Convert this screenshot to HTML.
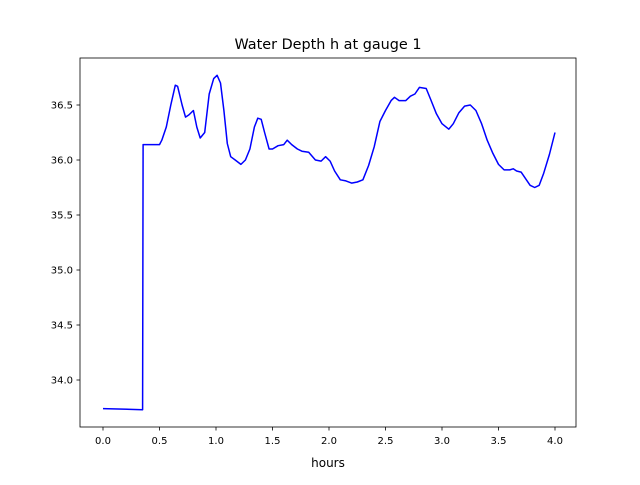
<!DOCTYPE html>
<html><head><meta charset="utf-8"><style>
body{margin:0;background:#fff;font-family:"Liberation Sans","DejaVu Sans",sans-serif}
text{font-family:"DejaVu Sans","Liberation Sans",sans-serif}
</style></head><body>
<svg id="chart" width="640" height="480" viewBox="0 0 640 480">
<rect width="640" height="480" fill="#fff"/>
<text x="328" y="49" font-size="14.4" text-anchor="middle">Water Depth h at gauge 1</text>
<g id="axes"></g>
<text x="328" y="467" font-size="12" text-anchor="middle">hours</text>
</svg>
<script>
const xValues=[0,0.35,0.355,0.5,0.52,0.56,0.6,0.64,0.66,0.7,0.73,0.76,0.8,0.83,0.86,0.9,0.94,0.98,1.01,1.04,1.07,1.1,1.13,1.17,1.22,1.26,1.3,1.34,1.37,1.4,1.43,1.47,1.5,1.55,1.6,1.63,1.67,1.72,1.76,1.82,1.88,1.93,1.97,2.01,2.05,2.1,2.15,2.2,2.25,2.3,2.35,2.4,2.45,2.5,2.55,2.58,2.62,2.68,2.72,2.76,2.8,2.86,2.9,2.95,3.0,3.06,3.1,3.15,3.2,3.25,3.3,3.35,3.4,3.45,3.5,3.55,3.6,3.63,3.66,3.7,3.74,3.78,3.82,3.86,3.9,3.95,4.0];
const depthValues=[33.74,33.73,36.14,36.14,36.18,36.3,36.5,36.68,36.67,36.5,36.39,36.41,36.45,36.3,36.2,36.25,36.6,36.74,36.77,36.7,36.45,36.15,36.03,36.0,35.96,36.0,36.1,36.3,36.38,36.37,36.25,36.1,36.1,36.13,36.14,36.18,36.14,36.1,36.08,36.07,36.0,35.99,36.03,35.99,35.9,35.82,35.81,35.79,35.8,35.82,35.95,36.12,36.35,36.45,36.54,36.57,36.54,36.54,36.58,36.6,36.66,36.65,36.55,36.42,36.33,36.28,36.33,36.43,36.49,36.5,36.45,36.33,36.18,36.06,35.96,35.91,35.91,35.92,35.9,35.89,35.83,35.77,35.75,35.77,35.88,36.05,36.25];
const xTicks=[0,0.5,1,1.5,2,2.5,3,3.5,4];
const xTickLabels=["0.0","0.5","1.0","1.5","2.0","2.5","3.0","3.5","4.0"];
const yTicks=[34,34.5,35,35.5,36,36.5];
const yTickLabels=["34.0","34.5","35.0","35.5","36.0","36.5"];
const L=80,R=576,T=58,B=427;
const xs=v=>103+v*113;
const ys=v=>105-(v-36.5)*110;
const NS="http://www.w3.org/2000/svg";
const g=document.getElementById('axes');
function mk(t,a){const e=document.createElementNS(NS,t);for(const k in a)e.setAttribute(k,a[k]);g.appendChild(e);return e;}
const pts=xValues.map((x,i)=>xs(x).toFixed(1)+','+ys(depthValues[i]).toFixed(1)).join(' ');
const line=mk('polyline',{points:pts,fill:'none',stroke:'#0000ff','stroke-width':1.5,'stroke-linejoin':'round'});


xTicks.forEach((v,i)=>{
  const t=mk('line',{x1:xs(v),x2:xs(v),y1:B,y2:B+3.5,stroke:'#000','stroke-width':0.8});
  
  
  const l=mk('text',{x:xs(v),y:B+17,'font-size':10,'text-anchor':'middle'});
  l.textContent=xTickLabels[i];
  
  
});
yTicks.forEach((v,i)=>{
  const t=mk('line',{x1:L-3.5,x2:L,y1:ys(v),y2:ys(v),stroke:'#000','stroke-width':0.8});
  
  
  const l=mk('text',{x:L-7,y:ys(v)+3.5,'font-size':10,'text-anchor':'end'});
  l.textContent=yTickLabels[i];
  
  
});
const f=mk('rect',{x:L,y:T,width:R-L,height:B-T,fill:'none',stroke:'#000','stroke-width':0.8});


</script>
</body></html>
